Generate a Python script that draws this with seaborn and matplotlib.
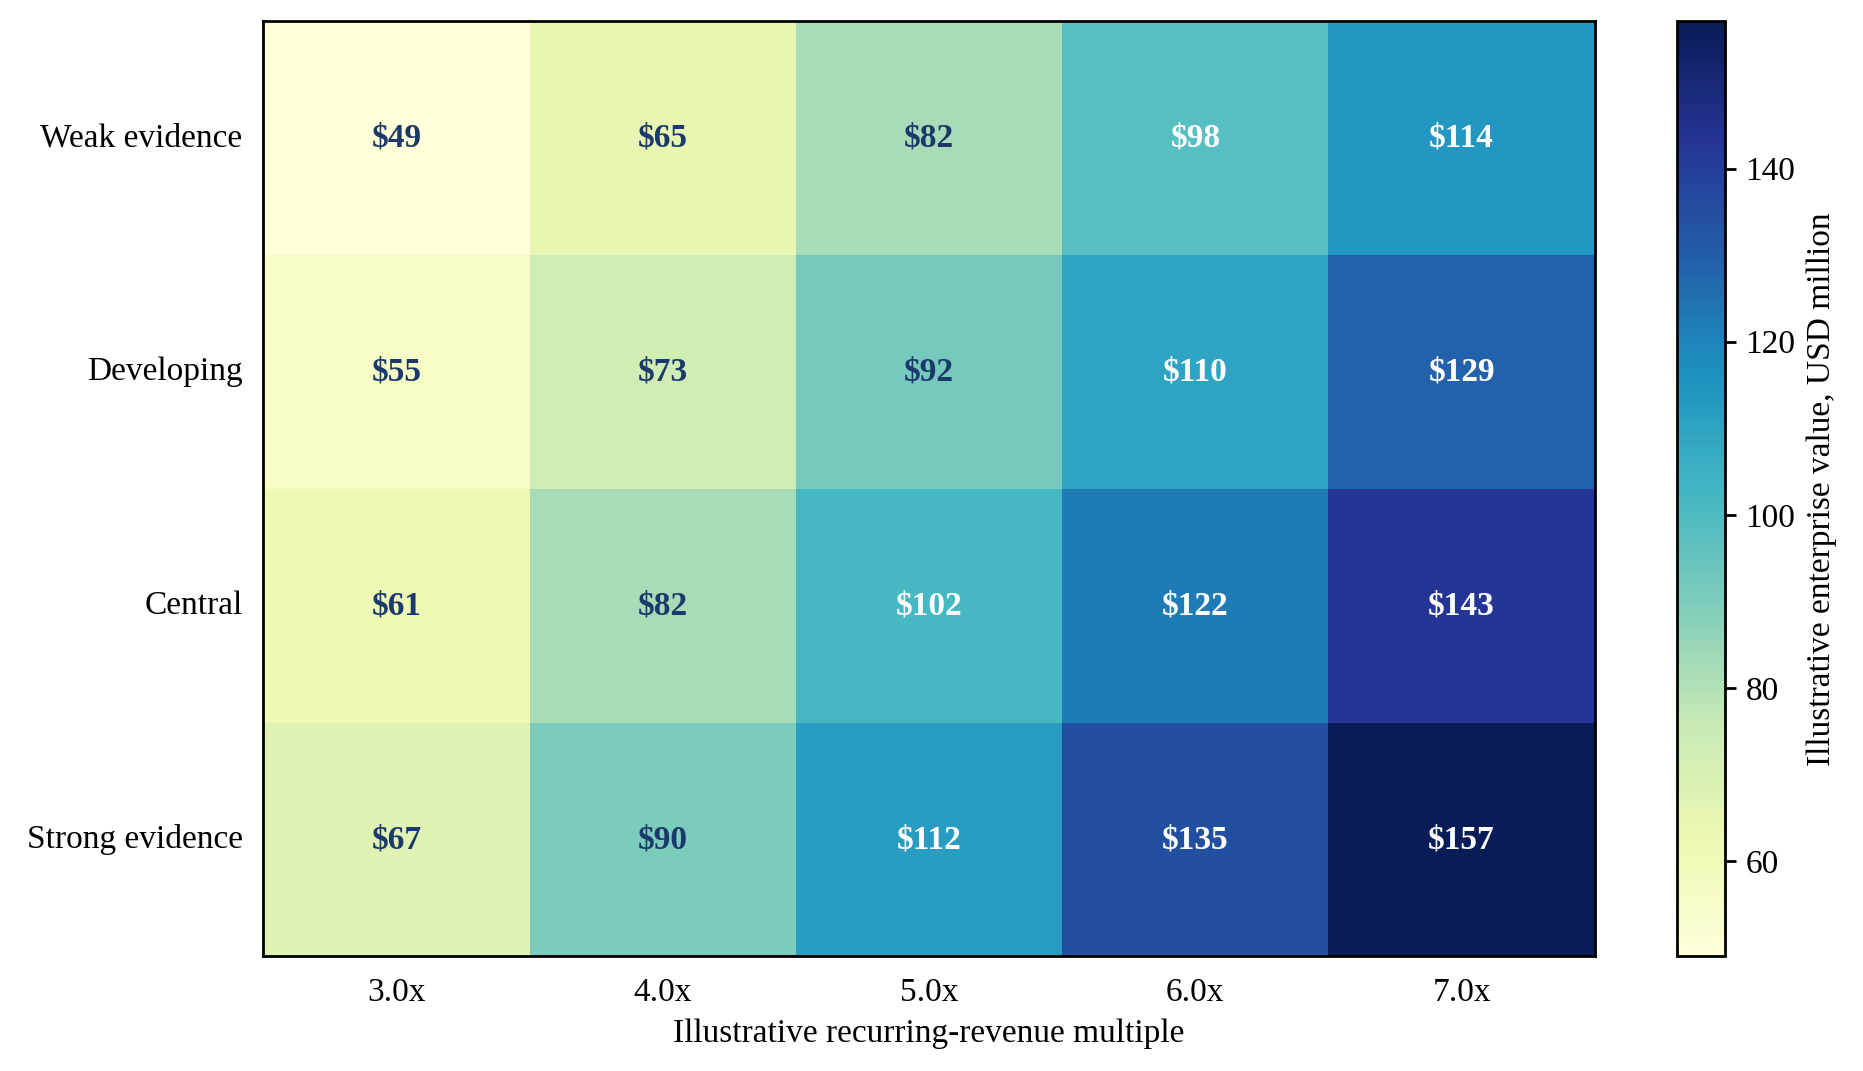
import numpy as np
import pandas as pd
import matplotlib
matplotlib.use("Agg")
import matplotlib.pyplot as plt
import seaborn as sns

# datos del grafico
multiples = ["3.0x", "4.0x", "5.0x", "6.0x", "7.0x"]
evidence = ["Weak evidence", "Developing", "Central", "Strong evidence"]
weak_row = [49, 65, 82, 98, 114]
developing_row = [55, 73, 92, 110, 129]
central_row = [61, 82, 102, 122, 143]
strong_row = [67, 90, 112, 135, 157]

sns.set_style("white")
plt.rcParams['font.family'] = ['Liberation Serif', 'DejaVu Serif']
plt.rcParams['font.size'] = 12
plt.rcParams['text.color'] = 'black'
plt.rcParams['axes.labelcolor'] = 'black'
plt.rcParams['xtick.color'] = 'black'
plt.rcParams['ytick.color'] = 'black'

data = pd.DataFrame([weak_row, developing_row, central_row, strong_row],
                    index=evidence, columns=multiples)
labels = data.map(lambda v: f"${v}")

fig = plt.figure(figsize=(9.315, 5.355), dpi=200)
ax = fig.add_axes([0.1414, 0.107, 0.7146, 0.873])
cax = fig.add_axes([0.9003, 0.107, 0.0255, 0.873])

sns.heatmap(data, cmap="YlGnBu", vmin=data.values.min(), vmax=data.values.max(),
            annot=labels, fmt="", annot_kws={"fontsize": 12, "fontweight": "bold"},
            cbar_ax=cax, ax=ax,
            cbar_kws={"label": "Illustrative enterprise value, USD million"})

# color del texto segun el valor
for txt, v in zip(ax.texts, data.values.ravel()):
    txt.set_color("white" if v > 95 else "#1b3a6b")

for s in ax.spines.values():
    s.set_visible(True)
    s.set_linewidth(1.0)
    s.set_color("black")

ax.set_xlabel("Illustrative recurring-revenue multiple", fontsize=12)
ax.set_ylabel("")
ax.tick_params(axis="both", length=4, width=1, labelsize=12, color="black")
ax.tick_params(axis="y", rotation=0)
ax.tick_params(axis="x", rotation=0)

cbar = ax.collections[0].colorbar
cbar.outline.set_visible(True)
cbar.outline.set_linewidth(1.0)
cbar.outline.set_edgecolor("black")
cbar.ax.tick_params(labelsize=12, length=4, width=1, color="black")
cbar.ax.yaxis.label.set_size(12)

plt.savefig("out.png", dpi=200)
